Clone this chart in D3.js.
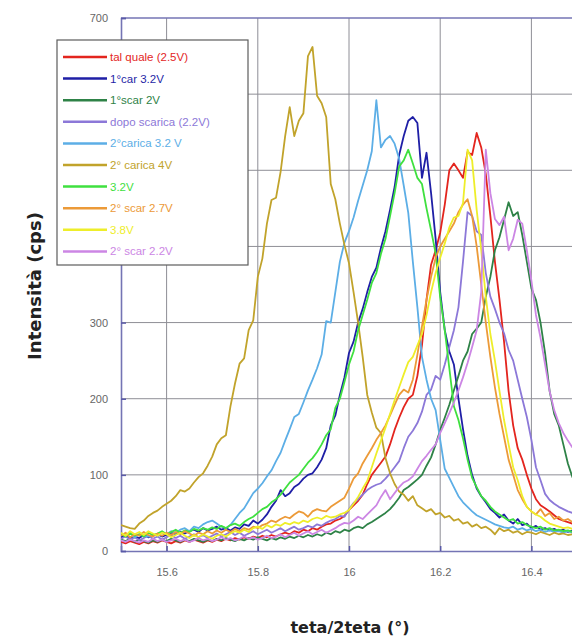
<!DOCTYPE html>
<html>
<head>
<meta charset="utf-8">
<script src="https://cdn.jsdelivr.net/npm/d3@7/dist/d3.min.js"></script>
<style>
  html, body { margin: 0; padding: 0; background: #fff; }
  svg { display: block; }
  .tick text { font-family: "Liberation Sans", Arial, sans-serif; font-size: 11px; fill: #666; }
</style>
</head>
<body>
<svg id="chart" width="572" height="639"></svg>
<script>
// Scan angles (teta/2teta, degrees)
const angles = [
  15.50,15.51,15.52,15.53,15.54,15.55,15.56,15.57,15.58,15.59,
  15.60,15.61,15.62,15.63,15.64,15.65,15.66,15.67,15.68,15.69,
  15.70,15.71,15.72,15.73,15.74,15.75,15.76,15.77,15.78,15.79,
  15.80,15.81,15.82,15.83,15.84,15.85,15.86,15.87,15.88,15.89,
  15.90,15.91,15.92,15.93,15.94,15.95,15.96,15.97,15.98,15.99,
  16.00,16.01,16.02,16.03,16.04,16.05,16.06,16.07,16.08,16.09,
  16.10,16.11,16.12,16.13,16.14,16.15,16.16,16.17,16.18,16.19,
  16.20,16.21,16.22,16.23,16.24,16.25,16.26,16.27,16.28,16.29,
  16.30,16.31,16.32,16.33,16.34,16.35,16.36,16.37,16.38,16.39,
  16.40,16.41,16.42,16.43,16.44,16.45,16.46,16.47,16.48,16.49,16.50
];

// Intensity (cps) for each sample state
const talQuale = [
  12,10,13,11,9,12,10,13,11,14, 12,10,13,11,14,12,15,13,11,14,
  12,15,13,16,14,17,15,18,16,19, 17,20,18,21,19,22,24,22,26,24,
  28,26,30,28,32,35,36,40,42,46, 54,60,66,74,88,100,108,116,124,140,
  159,175,189,200,205,230,270,330,376,395, 418,455,500,509,500,490,524,520,549,530,
  495,440,380,330,275,210,165,135,120,100, 82,68,60,56,52,47,42,40,38,36,34
];
const car1_32 = [
  18,20,16,19,17,21,18,20,22,19, 21,24,22,25,23,26,28,25,30,27,
  29,32,28,30,27,31,29,35,33,40, 36,41,48,58,66,80,72,76,84,88,
  95,100,102,110,120,135,165,178,205,228, 260,275,300,318,340,360,372,398,420,448,
  478,520,545,565,570,562,490,523,470,410, 340,290,262,245,200,160,125,100,82,72,
  64,55,50,44,48,40,36,42,34,36, 30,33,28,30,27,29,26,28,25,27,26
];
const scar1_2 = [
  15,13,16,12,15,13,11,14,12,15, 13,16,14,12,15,13,16,14,12,15,
  13,16,14,17,15,13,16,14,17,15, 18,16,14,17,15,18,16,19,17,20,
  18,21,19,22,20,24,22,26,24,28, 26,30,32,30,35,38,42,46,50,55,
  62,70,80,84,89,94,100,112,123,140, 159,175,192,211,230,250,262,285,292,300,
  334,360,395,412,435,458,440,445,415,380, 345,330,300,260,210,180,165,140,115,97,85
];
const dopoScarica = [
  16,19,15,18,14,17,20,16,19,15, 18,21,17,20,16,19,22,18,21,17,
  20,23,19,22,25,21,24,20,23,26, 22,25,28,24,27,30,26,29,32,28,
  30,33,31,35,33,37,40,42,46,45, 55,63,68,74,80,84,87,89,95,102,
  110,118,135,150,158,168,183,205,212,230, 225,245,268,290,320,380,445,440,420,415,
  365,334,318,300,286,264,250,225,200,176, 146,110,93,75,67,62,58,55,52,50,48
];
const carica2_32 = [
  22,20,24,18,22,20,19,22,20,24, 22,26,24,28,30,26,32,30,35,38,
  40,36,32,30,34,42,50,56,66,76, 82,89,98,106,118,129,145,160,176,180,
  195,211,225,240,258,302,300,340,380,405, 420,438,460,480,500,525,592,530,540,545,
  535,515,480,444,380,320,255,225,200,185, 146,108,96,84,72,64,58,52,47,44,
  41,38,35,33,31,30,32,28,30,27, 29,26,28,25,27,25,26,24,26,24,25
];
const carica2_4 = [
  34,32,30,29,36,40,46,50,53,58, 62,66,72,80,78,82,90,97,102,112,
  124,140,148,152,190,220,246,253,290,303, 360,384,430,461,464,498,545,583,545,565,
  575,650,662,598,588,570,482,462,430,402, 378,340,300,255,205,182,162,155,122,102,
  88,78,74,66,72,60,56,52,55,48, 50,44,46,40,42,36,38,32,35,30,
  32,28,22,30,26,28,24,26,22,25, 24,22,25,23,21,24,22,23,21,22,22
];
const v32 = [
  22,19,23,20,22,19,24,21,23,26, 22,25,28,24,27,25,29,27,30,28,
  31,29,33,30,34,36,33,38,42,45, 50,55,58,64,68,74,82,90,95,100,
  108,116,122,130,140,152,160,188,200,222, 245,262,290,310,330,352,365,390,410,440,
  470,505,513,527,509,490,482,450,421,391, 333,290,240,190,172,148,120,96,84,72,
  66,58,52,48,44,40,42,36,38,34, 32,30,32,28,30,27,28,26,27,25,26
];
const scar2_27 = [
  20,24,18,22,20,25,21,19,23,20, 24,21,25,22,26,23,20,24,22,26,
  23,27,24,28,25,29,26,30,28,32, 30,34,36,40,38,42,45,43,48,52,
  50,45,52,55,53,52,58,62,66,70, 82,95,102,115,125,135,146,155,165,178,
  192,205,212,208,225,258,295,330,360,385, 400,410,420,430,445,455,462,440,400,350,
  300,255,215,180,150,120,100,80,68,58, 52,48,55,46,50,42,45,40,42,38,40
];
const v38 = [
  24,20,26,22,25,21,26,23,20,24, 22,18,21,24,20,17,21,18,22,19,
  16,20,22,19,23,26,24,28,25,30, 32,29,34,31,35,33,37,35,38,36,
  40,38,42,44,42,46,44,45,48,50, 54,62,71,82,92,110,128,145,162,180,
  198,215,232,248,255,270,285,310,340,365, 385,404,425,438,440,457,527,513,448,395,
  334,285,250,210,172,140,110,93,72,58, 52,48,45,40,36,34,32,30,31,29,28
];
const scar2_22 = [
  14,12,15,13,11,14,12,16,13,15, 12,14,16,13,15,12,14,17,14,16,
  13,15,18,15,17,14,16,19,16,18, 15,17,20,17,19,22,18,21,24,20,
  23,26,22,25,28,24,27,30,34,37, 36,40,45,42,48,54,60,71,80,68,
  76,84,90,93,98,108,118,125,133,140, 155,168,181,195,211,228,247,268,290,340,
  527,470,436,428,439,395,410,435,430,395, 355,310,280,245,210,185,168,155,145,136,130
];

const seriesNames = [
  "tal quale (2.5V)", "1°car 3.2V", "1°scar 2V", "dopo scarica (2.2V)", "2°carica 3.2 V",
  "2° carica 4V", "3.2V", "2° scar 2.7V", "3.8V", "2° scar 2.2V"
];
const seriesValues = [talQuale, car1_32, scar1_2, dopoScarica, carica2_32, carica2_4, v32, scar2_27, v38, scar2_22];
const seriesColors = [
  "#e3251e", "#1f1fa6", "#2e8247", "#8c78d8", "#5caee6",
  "#c1a32b", "#3fe03f", "#ec9a38", "#eeee2a", "#cc86e4"
];

const xTicks = [15.6, 15.8, 16, 16.2, 16.4];
const yTicks = [0, 100, 200, 300, 400, 500, 600, 700];

const svg = d3.select("#chart");
const x = d3.scaleLinear().domain([15.5, 16.5]).range([121, 577]);
const y = d3.scaleLinear().domain([0, 700]).range([551, 18]);

svg.append("defs").append("clipPath").attr("id", "plotClip")
  .append("rect").attr("x", x(15.5)).attr("y", y(700))
  .attr("width", x(16.5) - x(15.5)).attr("height", y(0) - y(700));

// grid
const grid = svg.append("g");
grid.selectAll("line.vx").data(xTicks).join("line")
  .attr("x1", d => x(d)).attr("x2", d => x(d))
  .attr("y1", y(700)).attr("y2", y(0))
  .attr("stroke", "#8e8e96").attr("stroke-width", 1);
grid.selectAll("line.hy").data(yTicks.filter(v => v > 0 && v < 700)).join("line")
  .attr("x1", x(15.5)).attr("x2", x(16.5))
  .attr("y1", d => y(d)).attr("y2", d => y(d))
  .attr("stroke", "#8e8e96").attr("stroke-width", 1);

// frame (top edge)
svg.append("line")
  .attr("x1", x(15.5)).attr("x2", x(16.5))
  .attr("y1", y(700)).attr("y2", y(700))
  .attr("stroke", "#7474b4").attr("stroke-width", 1.5);

// axes
const xAxis = svg.append("g").attr("transform", `translate(0,${y(0)})`)
  .call(d3.axisBottom(x).tickValues(xTicks).tickFormat(d3.format("")).tickSize(-5).tickPadding(17));
const yAxis = svg.append("g").attr("transform", `translate(${x(15.5)},0)`)
  .call(d3.axisLeft(y).tickValues(yTicks).tickSize(-5).tickPadding(13));
[xAxis, yAxis].forEach(a => {
  a.select(".domain").attr("stroke", "#7474b4").attr("stroke-width", 1.6);
  a.selectAll(".tick line").attr("stroke", "#5a5aa8").attr("stroke-width", 1.5);
});

// curves
const line = d3.line().x((d, i) => x(angles[i])).y(d => y(d));
svg.append("g").attr("clip-path", "url(#plotClip)")
  .selectAll("path").data(seriesValues).join("path")
  .attr("d", line)
  .attr("fill", "none")
  .attr("stroke", (d, i) => seriesColors[i])
  .attr("stroke-width", 1.8)
  .attr("stroke-linejoin", "round");

// legend
const legend = svg.append("g");
legend.append("rect")
  .attr("x", 57).attr("y", 40).attr("width", 191).attr("height", 225)
  .attr("fill", "#fff").attr("stroke", "#5c5c5c").attr("stroke-width", 1.2);
const rows = legend.selectAll("g.row").data(seriesNames).join("g")
  .attr("transform", (d, i) => `translate(0,${57 + i * 21.6})`);
rows.append("line")
  .attr("x1", 63).attr("x2", 107).attr("y1", 0).attr("y2", 0)
  .attr("stroke", (d, i) => seriesColors[i]).attr("stroke-width", 2.5);
rows.append("text")
  .attr("x", 110).attr("y", 0).attr("dy", "0.35em")
  .attr("font-family", "Liberation Sans, Arial, sans-serif")
  .attr("font-size", 11.5)
  .attr("fill", (d, i) => seriesColors[i])
  .text(d => d);

// axis titles
svg.append("text")
  .attr("x", 350).attr("y", 633)
  .attr("text-anchor", "middle")
  .attr("font-family", "DejaVu Sans, sans-serif")
  .attr("font-weight", "bold").attr("font-size", 16)
  .attr("fill", "#222")
  .text("teta/2teta (°)");
svg.append("text")
  .attr("transform", "translate(41,286) rotate(-90)")
  .attr("text-anchor", "middle")
  .attr("font-family", "DejaVu Sans, sans-serif")
  .attr("font-weight", "bold").attr("font-size", 18)
  .attr("fill", "#222")
  .text("Intensità (cps)");
</script>
</body>
</html>
